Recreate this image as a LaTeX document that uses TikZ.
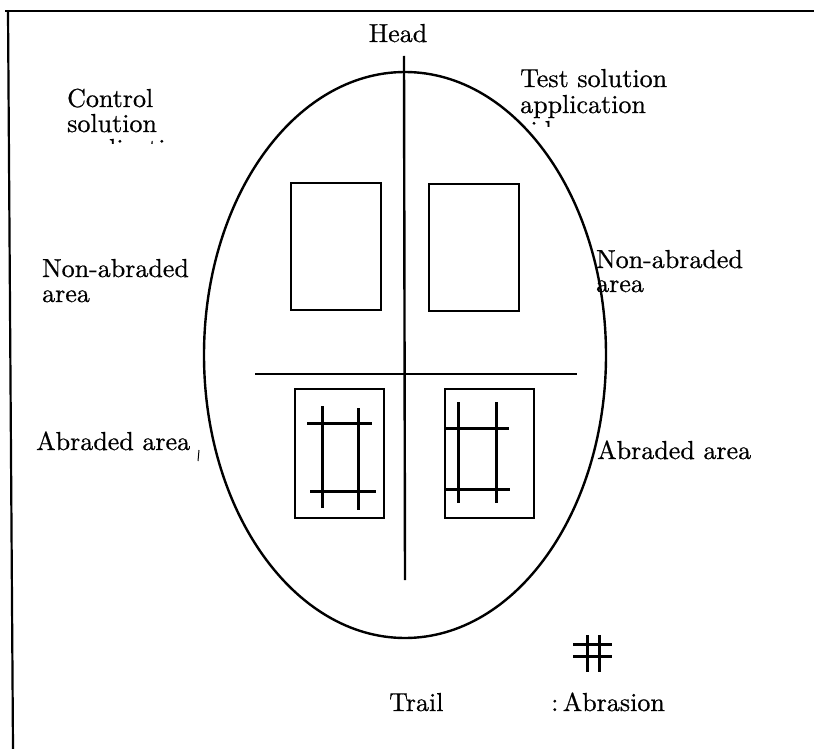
\documentclass[tikz,border=0pt]{standalone}
\usepackage{fontspec}
\setmainfont{lmroman10-regular.otf}[FakeBold=0.6]
\begin{document}
\begin{tikzpicture}[x=1pt,y=-1pt,
  lbl/.style={anchor=base west,inner sep=0pt,font=\fontsize{26}{27}\selectfont},
  frame/.style={line width=2.2pt},
  axis/.style={line width=2.4pt},
  outline/.style={line width=2.4pt},
  box/.style={line width=1.8pt},
  grid/.style={line width=3pt}]
\useasboundingbox (0,0) rectangle (814,749);
% frame
\draw[frame] (5,11) -- (814,11);
\draw[frame] (8,11) -- (13,749);
% outline of the body
\draw[outline] (405,355) ellipse [x radius=201, y radius=283];
% axes
\draw[axis] (404,56) -- (405,580);
\draw[axis] (255,374) -- (577,374);
% non-abraded areas
\draw[box] (291,183) rectangle (381,310);
\draw[box] (429,184) rectangle (519,311);
% abraded areas
\draw[box] (295,389) rectangle (384,518);
\draw[box] (445,389) rectangle (534,518);
% abrasion grids
\draw[grid] (322,406) -- (322,508) (358,408) -- (358,510)
            (307,423) -- (372,423) (310,491) -- (376,491);
\draw[grid] (458,402) -- (458,503) (496,402) -- (496,503)
            (446,428) -- (509,428) (446,489) -- (510,489);
% legend symbol
\draw[grid] (587,635) -- (587,672) (599,635) -- (599,672)
            (573,644) -- (612,644) (573,656) -- (612,656);
% labels
\node[lbl,anchor=base] (head) at (398,42) {Head};
\node[lbl] (c1) at (67,107) {Control};
\node[lbl] (c2) at (67,132) {solution};
\begin{scope}
\clip (0,0) rectangle (300,144);
\node[lbl] (c3) at (67,157) {application};
\end{scope}
\node[lbl] (t1) at (520,87) {Test solution};
\node[lbl] (t2) at (520,113) {application};
\begin{scope}
\clip (480,0) rectangle (814,127);
\node[lbl] (t3) at (520,139) {side};
\end{scope}
\node[lbl] (nl1) at (42,277) {Non-abraded};
\node[lbl] (nl2) at (42,302) {area};
\node[lbl] (nr1) at (596,268) {Non-abraded};
\node[lbl] (nr2) at (596,292) {area};
\node[lbl] (al) at (36,450) {Abraded area};
\draw[line width=1pt] (199,450) -- (198,461);
\node[lbl] (ar) at (597,459) {Abraded area};
\node[lbl] (trail) at (389,711) {Trail};
\node[lbl] (abr) at (551,711) {:\,Abrasion};
\end{tikzpicture}
\end{document}
